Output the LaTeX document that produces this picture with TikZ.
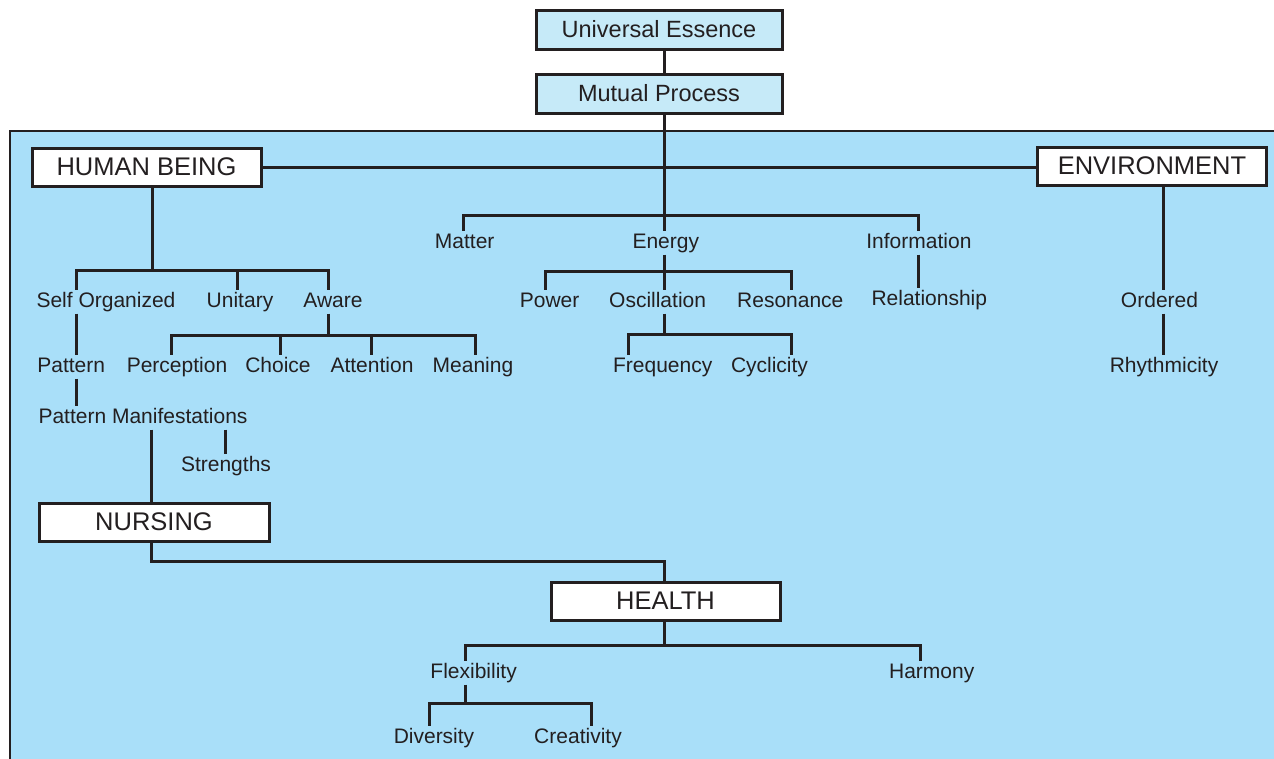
\documentclass[tikz,border=0pt]{standalone}
\usepackage{fontspec}
\setmainfont{Liberation Sans}
\definecolor{ink}{HTML}{231F20}
\definecolor{panelblue}{HTML}{A9DFF9}
\definecolor{paleblue}{HTML}{C6EAF8}

\begin{document}
\begin{tikzpicture}[x=1pt,y=-1pt,
  link/.style={draw=ink,line width=3pt},
  capbox/.style={draw=ink,line width=3pt,fill=white,minimum width=229pt,
    minimum height=38pt,inner sep=0pt,text=ink,font=\fontsize{25.5}{28}\selectfont},
  topbox/.style={capbox,fill=paleblue,minimum width=246pt,minimum height=39pt,
    font=\fontsize{23.5}{26}\selectfont},
  lbl/.style={anchor=base,inner xsep=0pt,inner ysep=2pt,text height=15pt,
    text depth=4.5pt,text=ink,font=\fontsize{21}{25}\selectfont}]
\useasboundingbox (0,0) rectangle (1274,758);

% background panel of the lower part
\fill[panelblue] (10,131) rectangle (1290,775);
\draw[ink,line width=2.6pt] (10,775) -- (10,131) -- (1290,131);

% boxed concepts
\node[topbox] (ue) at (659,29.5) {Universal Essence};
\node[topbox] (mp) at (659,93.5) {Mutual Process};
\node[capbox] (hb) at (146.5,167) {HUMAN BEING};
\node[capbox] (env) at (1152,166) {ENVIRONMENT};
\node[capbox,minimum width=230pt] (nur) at (154,522) {NURSING};
\node[capbox] (hea) at (665.5,601) {HEALTH};

% plain labels (placed on their baselines)
\node[lbl] (matter) at (464.7,248) {Matter};
\node[lbl] (energy) at (665.8,248) {Energy};
\node[lbl] (info)   at (918.9,248) {Information};
\node[lbl] (relat)  at (929.3,305) {Relationship};
\node[lbl] (so)     at (106,307) {Self Organized};
\node[lbl] (unit)   at (240,307) {Unitary};
\node[lbl] (aware)  at (333,307) {Aware};
\node[lbl] (power)  at (549.6,307) {Power};
\node[lbl] (osc)    at (657.6,307) {Oscillation};
\node[lbl] (reson)  at (790.3,307) {Resonance};
\node[lbl] (ordered) at (1159.5,307) {Ordered};
\node[lbl] (rhythm) at (1164,372) {Rhythmicity};
\node[lbl] (pat)    at (71.2,372) {Pattern};
\node[lbl] (perc)   at (177,372) {Perception};
\node[lbl] (choice) at (278,372) {Choice};
\node[lbl] (attn)   at (372,372) {Attention};
\node[lbl] (mean)   at (473,372) {Meaning};
\node[lbl] (freq)   at (662.7,372) {Frequency};
\node[lbl] (cyc)    at (769.5,372) {Cyclicity};
\node[lbl] (pm)     at (143,423) {Pattern Manifestations};
\node[lbl] (str)    at (226,471) {Strengths};
\node[lbl] (flex)   at (473.6,678) {Flexibility};
\node[lbl] (harm)   at (931.7,678) {Harmony};
\node[lbl] (div)    at (434,743) {Diversity};
\node[lbl] (cre)    at (578,743) {Creativity};

% columns of the vertical connectors
\coordinate (cSp) at (664,0);
\coordinate (cHB) at (152,0);
\coordinate (cSO) at (76,0);
\coordinate (cUn) at (237,0);
\coordinate (cAw) at (328,0);
\coordinate (cPe) at (171,0);
\coordinate (cCh) at (280,0);
\coordinate (cAt) at (371,0);
\coordinate (cMe) at (475,0);
\coordinate (cPM) at (151,0);
\coordinate (cSt) at (225,0);
\coordinate (cMa) at (463,0);
\coordinate (cIn) at (918,0);
\coordinate (cPo) at (545,0);
\coordinate (cRe) at (791,0);
\coordinate (cFr) at (628,0);
\coordinate (cFl) at (465,0);
\coordinate (cHa) at (920,0);
\coordinate (cDi) at (429,0);
\coordinate (cCr) at (591,0);
\coordinate (cEn) at (1163,0);

% rows of the horizontal bars
\coordinate (rME)  at (0,215);
\coordinate (rE)   at (0,271);
\coordinate (rO)   at (0,334);
\coordinate (rHB)  at (0,270);
\coordinate (rAw)  at (0,335);
\coordinate (rNH)  at (0,561);
\coordinate (rHe)  at (0,645);
\coordinate (rFl)  at (0,703);

% central spine
\draw[link] (ue.south -| cSp) -- (mp.north -| cSp);
\draw[link] (mp.south -| cSp) -- (cSp |- energy.north);
\draw[link] (hb.east) -- (hb.east -| env.west);

% matter / energy / information
\draw[link] (cMa |- matter.north) -- (cMa |- rME) -- (cIn |- rME) -- (cIn |- info.north);
\draw[link] (cIn |- info.south) -- (cIn |- relat.north);
\draw[link] (cSp |- energy.south) -- (cSp |- osc.north);
\draw[link] (cPo |- power.north) -- (cPo |- rE) -- (cRe |- rE) -- (cRe |- reson.north);
\draw[link] (cSp |- osc.south) -- (cSp |- rO);
\draw[link] (cFr |- freq.north) -- (cFr |- rO) -- (cRe |- rO) -- (cRe |- cyc.north);

% human being
\draw[link] (cHB |- hb.south) -- (cHB |- rHB);
\draw[link] (cSO |- so.north) -- (cSO |- rHB) -- (cAw |- rHB) -- (cAw |- aware.north);
\draw[link] (cUn |- rHB) -- (cUn |- unit.north);
\draw[link] (cSO |- so.south) -- (cSO |- pat.north);
\draw[link] (cSO |- pat.south) -- (cSO |- pm.north);
\draw[link] (cAw |- aware.south) -- (cAw |- rAw);
\draw[link] (cPe |- perc.north) -- (cPe |- rAw) -- (cMe |- rAw) -- (cMe |- mean.north);
\draw[link] (cCh |- rAw) -- (cCh |- choice.north);
\draw[link] (cAt |- rAw) -- (cAt |- attn.north);
\draw[link] (cSt |- pm.south) -- (cSt |- str.north);
\draw[link] (cPM |- pm.south) -- (cPM |- nur.north);

% nursing and health
\draw[link] (cPM |- nur.south) -- (cPM |- rNH) -- (cSp |- rNH) -- (cSp |- hea.north);
\draw[link] (cSp |- hea.south) -- (cSp |- rHe);
\draw[link] (cFl |- flex.north) -- (cFl |- rHe) -- (cHa |- rHe) -- (cHa |- harm.north);
\draw[link] (cFl |- flex.south) -- (cFl |- rFl);
\draw[link] (cDi |- div.north) -- (cDi |- rFl) -- (cCr |- rFl) -- (cCr |- cre.north);

% environment
\draw[link] (cEn |- env.south) -- (cEn |- ordered.north);
\draw[link] (cEn |- ordered.south) -- (cEn |- rhythm.north);
\end{tikzpicture}
\end{document}
